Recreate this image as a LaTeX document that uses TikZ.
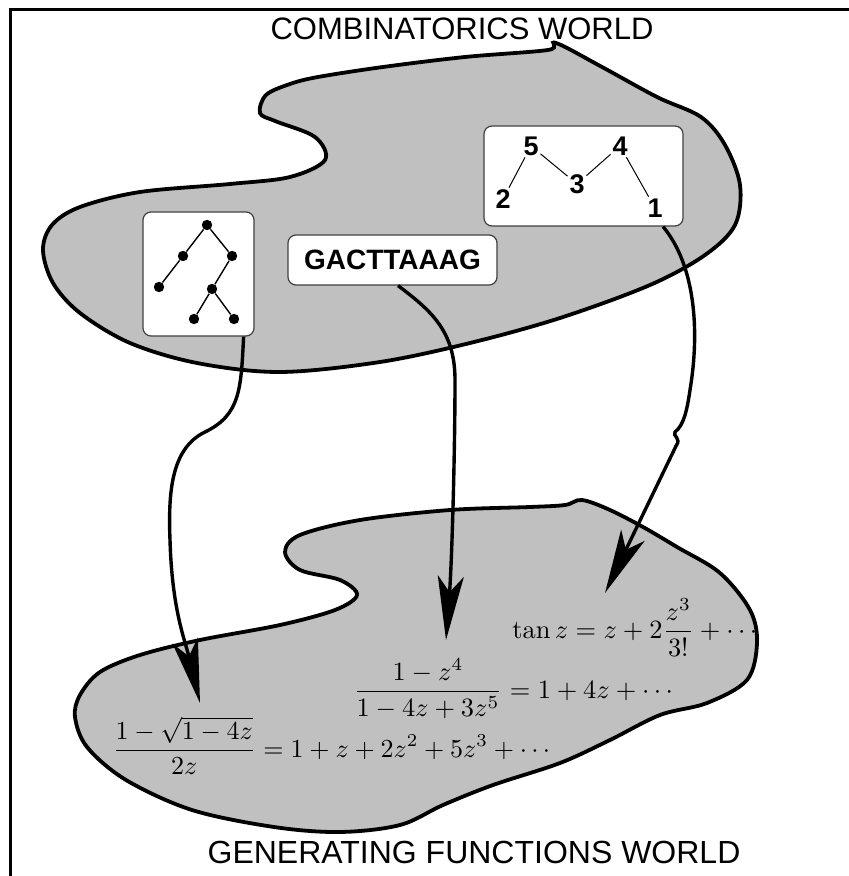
\documentclass[tikz,border=0pt]{standalone}
\usepackage{fontspec}
\usepackage{graphicx}
\newfontfamily\sansf{Liberation Sans}
\usetikzlibrary{arrows.meta}
\definecolor{blobgray}{RGB}{192,192,192}
\begin{document}
\begin{tikzpicture}[x=0.5pt,y=-0.5pt,
  blob/.style={fill=blobgray, draw=black, line width=1.9pt},
  card/.style={draw=black!75, line width=0.6pt, fill=white, rounded corners=4pt, inner sep=0pt},
  title/.style={font=\sansf\fontsize{15.5}{18}\selectfont, inner sep=0pt, anchor=base},
  digit/.style={font=\sansf\bfseries\fontsize{13.5}{15}\selectfont, inner sep=0.8pt},
  dot/.style={circle, fill=black, inner sep=0pt, minimum size=5.2pt},
  link/.style={line width=0.5pt},
  treeedge/.style={line width=0.7pt},
  mapsto/.style={line width=1.7pt, -{Stealth[length=32pt,width=13pt,inset=8pt]}},
  formula/.style={inner sep=0pt, anchor=base west}]
\useasboundingbox (0,0) rectangle (849,876);
% frame
\draw[line width=1.4pt] (10.5,876) -- (10.5,9.5) -- (849,9.5);
% titles
\node[title] (topt) at (462,40) {COMBINATORICS WORLD};
\node[title, font=\sansf\fontsize{16}{18}\selectfont] (bott) at (474,863) {GENERATING FUNCTIONS WORLD};
% top blob
\draw[blob] plot[smooth cycle, tension=0.55] coordinates {
 (556,43) (602,67) (657,97) (701,117) (725,145) (740,185) (735,225) (705,255)
 (650,285) (560,318) (470,343) (380,362) (280,372) (197,363) (130,343) (80,313)
 (53,283) (43,250) (52,225) (80,207) (140,192) (230,184) (290,177) (325,160)
 (315,137) (275,121) (260,113) (266,95) (290,84) (318,77) (383,67) (465,57) (548,50)};
% bottom blob
\draw[blob] plot[smooth cycle, tension=0.55] coordinates {
 (582,500) (610,510) (643,527) (677,547) (720,573) (750,610) (757,643) (747,680)
 (707,703) (660,715) (610,740) (560,763) (493,785) (443,805) (400,825) (340,832)
 (274,827) (192,810) (126,780) (87,747) (75,717) (80,695) (100,672) (140,655)
 (200,640) (280,625) (335,610) (357,595) (340,580) (300,570) (285,552) (300,535)
 (360,520) (450,510) (530,507) (565,505)};
% tree card
\node[card, minimum width=55.5pt, minimum height=62pt] (tree) at (198.5,274) {};
\node[dot] (r) at (207,225) {};
\node[dot] (a) at (183,256) {};
\node[dot] (b) at (232,256) {};
\node[dot] (c) at (159,287) {};
\node[dot] (d) at (212,289) {};
\node[dot] (e) at (194,319) {};
\node[dot] (f) at (234,319) {};
\draw[treeedge] (r) -- (a) (r) -- (b) (a) -- (c) (b) -- (d) (d) -- (e) (d) -- (f);
% word card
\node[card, minimum width=104.5pt, minimum height=25pt, font=\sansf\bfseries\fontsize{14}{16}\selectfont] (word) at (392.5,260) {GACTTAAAG};
% permutation card
\node[card, minimum width=99.5pt, minimum height=50pt] (perm) at (583.5,176) {};
\node[digit] (p5) at (531,146) {5};
\node[digit] (p2) at (503,199) {2};
\node[digit] (p3) at (577,184) {3};
\node[digit] (p4) at (620,146) {4};
\node[digit] (p1) at (655,208) {1};
\draw[link] (p2) -- (p5) -- (p3) -- (p4) -- (p1);
% formulas
\node[formula] (tanf) at (512,638) {\scalebox{1.32}{$\displaystyle \tan z = z + 2\frac{z^3}{3!} + \cdots$}};
\node[formula] (ratf) at (353,698) {\scalebox{1.32}{$\displaystyle \frac{1-z^4}{1-4z+3z^5} = 1 + 4z + \cdots$}};
\node[formula] (catf) at (112,757) {\scalebox{1.30}{$\displaystyle \frac{1-\sqrt{1-4z}}{2z} = 1 + z + 2z^2 + 5z^3 + \cdots$}};
% arrow tips
\coordinate (tipC) at (200,703);
\coordinate (tipR) at (446,640);
\coordinate (tipT) at (605,593);
% arrows
\draw[mapsto] ([xshift=-5.5pt]tree.south east) .. controls (241,390) and (240,415) .. (205,432)
  .. controls (172,448) and (168,490) .. (170,540)
  .. controls (172,610) and (185,640) .. (tipC);
\draw[mapsto] ([xshift=2.75pt]word.south) .. controls (430,310) and (455,330) .. (455,380)
  .. controls (455,450) and (452,560) .. (tipR);
\draw[mapsto] ([xshift=39.75pt]perm.south) .. controls (695,265) and (700,330) .. (690,390)
  .. controls (687,410) and (684,425) .. (675,432)
  .. controls (672,436) and (682,438) .. (676,446) -- (tipT);
\end{tikzpicture}
\end{document}
